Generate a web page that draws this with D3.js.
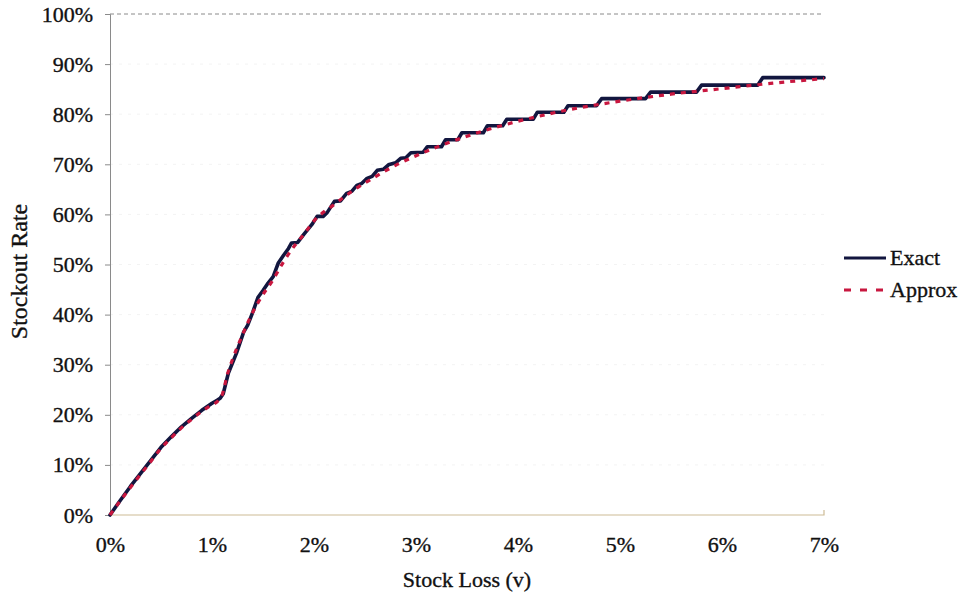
<!DOCTYPE html>
<html>
<head>
<meta charset="utf-8">
<script src="https://cdn.jsdelivr.net/npm/d3@7"></script>
<style>
  html, body { margin: 0; padding: 0; background: #fff; }
  svg { display: block; font-family: "Liberation Serif", "Times New Roman", serif; }
  .lbl { fill: #111; stroke: #111; stroke-width: 0.35px; }
</style>
</head>
<body>
<svg id="chart" width="964" height="594"></svg>
<script>
// Stock loss (v, %) against stockout rate (%) for the exact and approximate models
const exactLoss = [0,0.1,0.2,0.3,0.4,0.5,0.6,0.7,0.8,0.9,1.0,1.05,1.08,1.11,1.16,1.24,1.31,1.35,1.40,1.45,1.5,1.55,1.6,1.65,1.7,1.75,1.78,1.84,1.9,1.98,2.03,2.09,2.13,2.2,2.26,2.32,2.37,2.42,2.47,2.52,2.57,2.62,2.68,2.73,2.80,2.85,2.9,2.95,3.07,3.11,3.25,3.29,3.41,3.45,3.66,3.70,3.85,3.89,4.15,4.19,4.45,4.49,4.77,4.82,5.25,5.30,5.75,5.80,6.35,6.40,7.0];
const exactRate = [0,2.9,5.7,8.3,10.9,13.5,15.6,17.6,19.3,20.9,22.3,22.9,23.3,24.2,28.3,32.3,36.5,37.9,40.5,43.4,44.8,46.3,47.6,50.3,51.8,53.2,54.3,54.4,56.0,58.0,59.6,59.6,60.4,62.6,62.7,64.2,64.6,65.8,66.2,67.2,67.6,68.8,69.0,69.9,70.3,71.2,71.3,72.3,72.4,73.5,73.5,74.9,74.9,76.3,76.3,77.7,77.7,79.0,79.0,80.4,80.4,81.7,81.7,83.1,83.1,84.4,84.4,85.8,85.8,87.3,87.3];

const approxLoss = [0,0.1,0.2,0.3,0.4,0.5,0.6,0.7,0.8,0.9,1.0,1.05,1.1,1.15,1.2,1.3,1.4,1.5,1.6,1.7,1.8,1.9,2.0,2.2,2.4,2.6,2.8,3.0,3.25,3.5,3.75,4.0,4.25,4.5,4.75,5.0,5.5,6.0,6.5,7.0];
const approxRate = [0,2.8,5.5,8.1,10.7,13.3,15.4,17.4,19.1,20.7,22.0,22.6,24.0,28.0,31.0,36.0,40.5,44.0,47.0,50.5,53.5,56.0,58.7,62.0,65.0,67.5,69.8,71.7,73.8,75.6,77.2,78.6,79.8,80.9,81.8,82.6,84.0,85.1,86.2,87.1];

const xTicks = [0,1,2,3,4,5,6,7];
const yTicks = [0,10,20,30,40,50,60,70,80,90,100];
const seriesNames = ["Exact", "Approx"];

const svg = d3.select("#chart");
const margin = {left: 110, right: 140, top: 14, bottom: 79};
const W = 964, H = 594;

const x = d3.scaleLinear().domain([0, 7]).range([margin.left, W - margin.right]);
const y = d3.scaleLinear().domain([0, 100]).range([H - margin.bottom, margin.top]);

// faint horizontal gridlines
svg.append("g")
  .selectAll("line")
  .data(yTicks.filter(d => d > 0 && d < 100))
  .join("line")
  .attr("x1", x(0)).attr("x2", x(7))
  .attr("y1", d => y(d)).attr("y2", d => y(d))
  .attr("stroke", "#f3f3f3").attr("stroke-dasharray", "3,6");

// top gridline at 100%
svg.append("line")
  .attr("x1", x(0)).attr("x2", x(7))
  .attr("y1", y(100)).attr("y2", y(100))
  .attr("stroke", "#8a8a8a").attr("stroke-width", 1).attr("stroke-dasharray", "4,3");

// y axis
const yAxis = svg.append("g")
  .attr("transform", `translate(${x(0)},0)`)
  .call(d3.axisLeft(y).tickValues(yTicks).tickSize(5).tickPadding(12).tickFormat(d => d + "%"));
yAxis.select(".domain").attr("stroke", "#8a8a8a");
yAxis.selectAll(".tick line").attr("stroke", "#8a8a8a");
yAxis.selectAll("text").attr("class", "lbl").attr("font-size", 22).attr("font-family", "Liberation Serif, serif");

// x axis
const xAxis = svg.append("g")
  .attr("transform", `translate(0,${y(0)})`)
  .call(d3.axisBottom(x).tickValues(xTicks).tickSize(0).tickPadding(21).tickFormat(d => d + "%"));
xAxis.select(".domain").remove();
xAxis.selectAll("text").attr("class", "lbl").attr("font-size", 22).attr("font-family", "Liberation Serif, serif");

// baseline along 0%
svg.append("path")
  .attr("d", `M${x(0)},${y(0)}H${x(7)}V${y(0) - 5}`)
  .attr("fill", "none").attr("stroke", "#cdbb96").attr("stroke-width", 1.2);

// axis titles
svg.append("text")
  .attr("class", "lbl")
  .attr("x", x(3.5)).attr("y", 587)
  .attr("text-anchor", "middle").attr("font-size", 22)
  .text("Stock Loss (v)");
svg.append("text")
  .attr("class", "lbl")
  .attr("transform", `translate(27,${y(50) + 7}) rotate(-90)`)
  .attr("text-anchor", "middle").attr("font-size", 24)
  .text("Stockout Rate");

const exactData = exactLoss.map((v, i) => [v, exactRate[i]]);
const approxData = approxLoss.map((v, i) => [v, approxRate[i]]);

const lineExact = d3.line().x(d => x(d[0])).y(d => y(d[1])).curve(d3.curveLinear);
const lineApprox = d3.line().x(d => x(d[0])).y(d => y(d[1])).curve(d3.curveMonotoneX);

const exactColor = "#12163f";
const approxColor = "#c8173f";

svg.append("path")
  .datum(exactData)
  .attr("d", lineExact)
  .attr("fill", "none").attr("stroke", exactColor).attr("stroke-width", 3.6)
  .attr("stroke-linejoin", "round").attr("stroke-linecap", "round");

svg.append("path")
  .datum(approxData)
  .attr("d", lineApprox)
  .attr("fill", "none").attr("stroke", approxColor).attr("stroke-width", 3.2)
  .attr("stroke-dasharray", "5,6");

// legend
const legend = svg.append("g");
const legendY = [258, 290];
seriesNames.forEach((name, i) => {
  legend.append("line")
    .attr("x1", 844).attr("x2", 886)
    .attr("y1", legendY[i]).attr("y2", legendY[i])
    .attr("stroke", i === 0 ? exactColor : approxColor)
    .attr("stroke-width", 3.2)
    .attr("stroke-dasharray", i === 0 ? null : "7,9");
  legend.append("text")
    .attr("class", "lbl")
    .attr("x", 890).attr("y", legendY[i] + 7)
    .attr("font-size", 22)
    .text(name);
});
</script>
</body>
</html>
